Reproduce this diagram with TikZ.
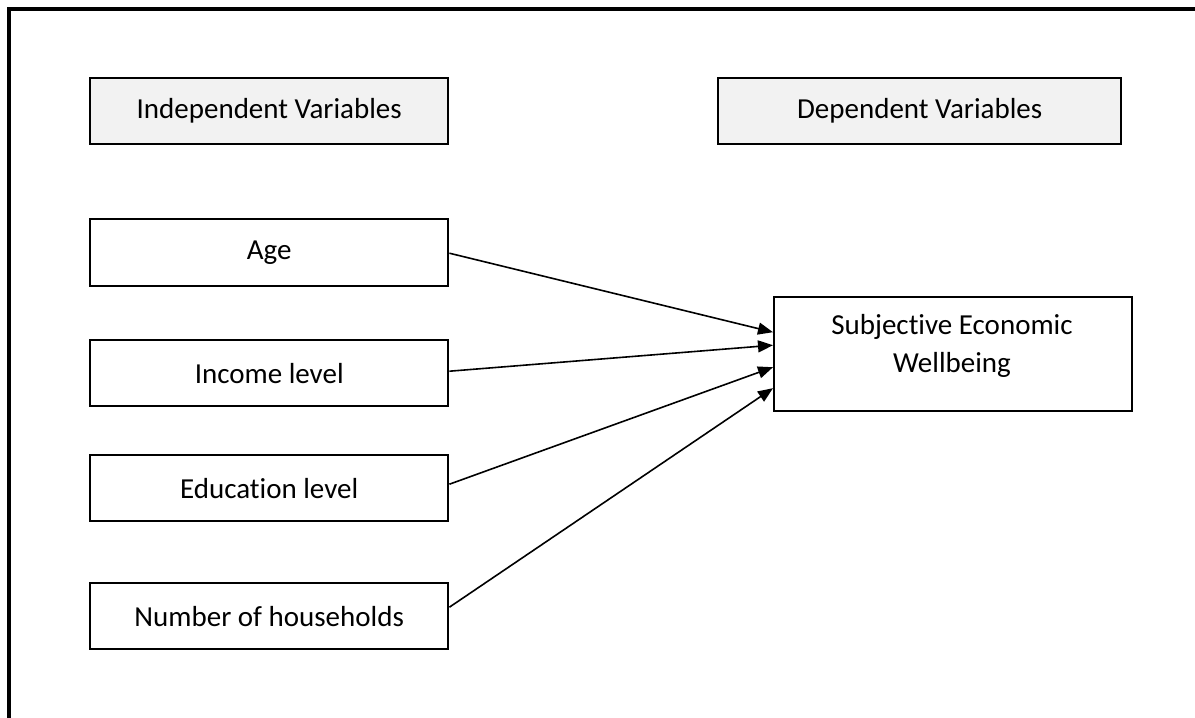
\documentclass[tikz,border=0pt]{standalone}
\usepackage{fontspec}
\setmainfont{Carlito}[RawFeature={-liga;-clig;-dlig}]
\usetikzlibrary{arrows.meta,calc}
\definecolor{hdrfill}{HTML}{F2F2F2}
\begin{document}
\begin{tikzpicture}[x=1pt,y=-1pt,
  every node/.style={font=\fontsize{29}{38}\selectfont},
  varbox/.style={draw=black,line width=2.4pt,minimum width=358pt,minimum height=66pt,inner sep=0pt,anchor=north west},
  hdrbox/.style={varbox,fill=hdrfill},
  link/.style={line width=1.6pt,-{Triangle[length=15pt,width=12pt]}}]
\useasboundingbox (0,0) rectangle (1195,718);
\begin{scope}
\clip (0,0) rectangle (1195,718);
\draw[line width=3.8pt] (9.3,760) -- (9.3,9.3) -- (1240,9.3);
\end{scope}
\node[hdrbox] (indep) at (89,77) {Independent Variables};
\node[hdrbox,minimum width=403pt] (dep) at (717,77) {Dependent Variables};
\node[varbox,minimum height=67pt] (age) at (89,218) {Age};
\node[varbox] (inc) at (89,339) {Income level};
\node[varbox] (edu) at (89,454) {Education level};
\node[varbox] (num) at (89,582) {Number of households};
\node[draw=black,line width=2.4pt,minimum width=358pt,minimum height=114pt,inner sep=0pt,anchor=north west] (subj) at (773,296) {};
\node[align=center,inner sep=0pt] (subjtxt) at (952,346) {Subjective Economic\\Wellbeing};
\draw[link] ([yshift=-0.5pt]age.east) -- ([yshift=22pt]subj.west);
\draw[link] ([yshift=2pt]inc.east) -- ([yshift=9pt]subj.west);
\draw[link] ([yshift=4pt]edu.east) -- ([yshift=-13pt]subj.west);
\draw[link] ([yshift=9pt]num.east) -- ([yshift=-34pt]subj.west);
\end{tikzpicture}
\end{document}
